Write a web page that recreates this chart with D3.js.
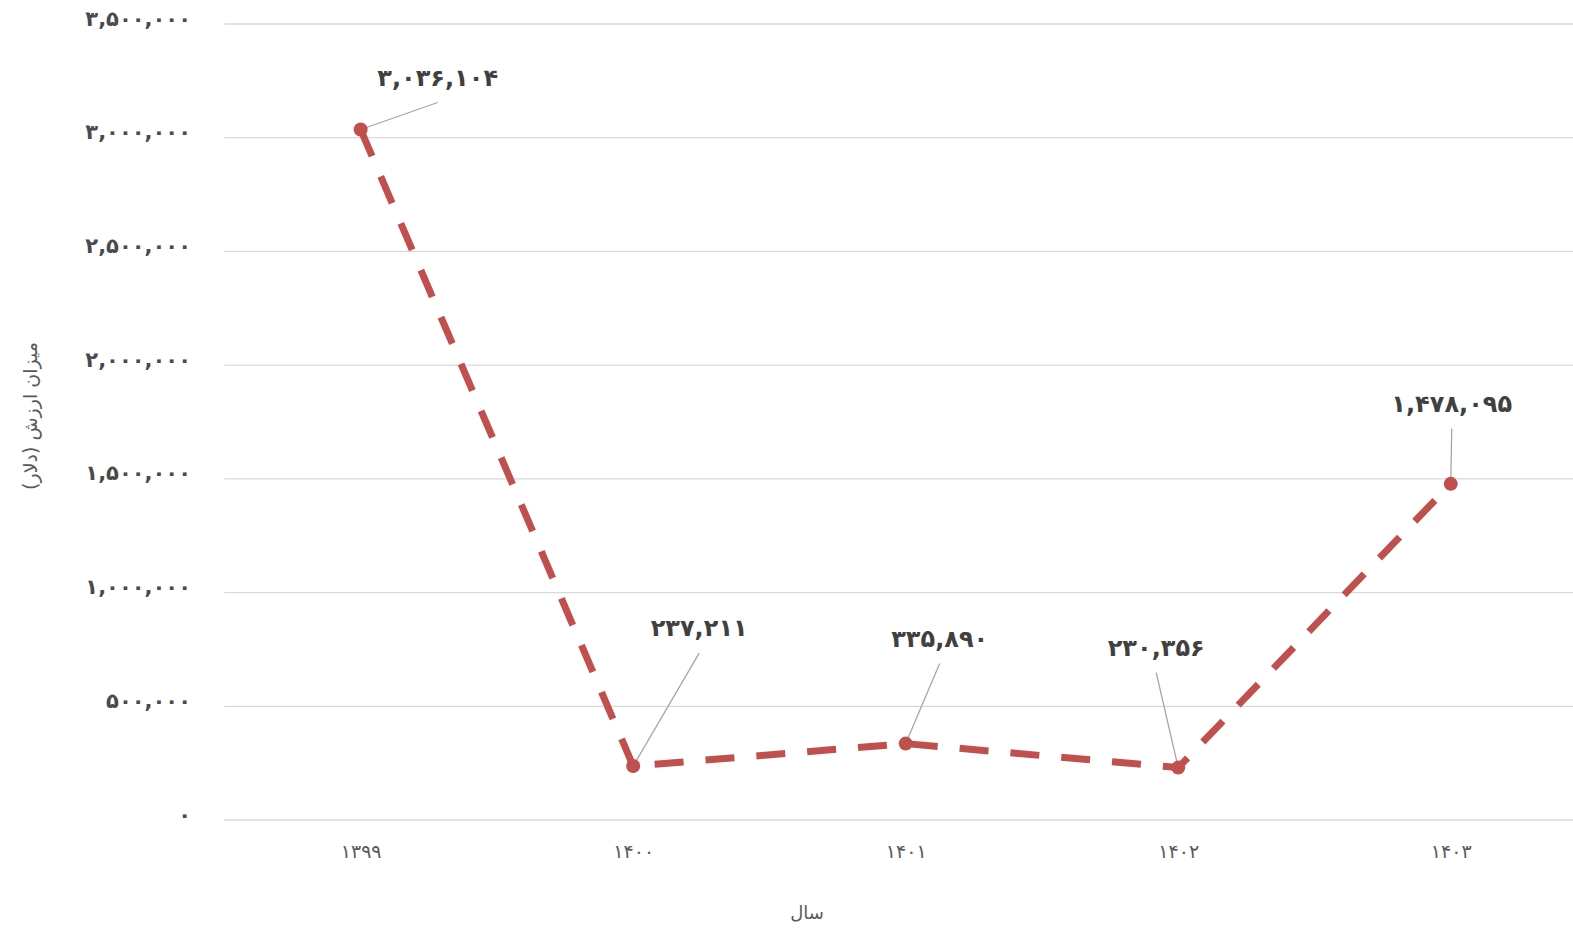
<!DOCTYPE html>
<html>
<head>
<meta charset="utf-8">
<script src="https://cdn.jsdelivr.net/npm/d3@7"></script>
<style>
  html, body { margin: 0; padding: 0; background: #fff; overflow: hidden; }
  text { font-family: "DejaVu Sans", sans-serif; }
</style>
</head>
<body>
<svg id="chart" width="1573" height="931"></svg>
<script>
// Export value by year (USD)
const years = ["۱۳۹۹", "۱۴۰۰", "۱۴۰۱", "۱۴۰۲", "۱۴۰۳"];
const values = [3036104, 237211, 335890, 230356, 1478095];
const yTicks = [0, 500000, 1000000, 1500000, 2000000, 2500000, 3000000, 3500000];
// callout label placement relative to each point: [dx, dy] of the label baseline
const labelOffsets = [[77, -44], [66, -130], [34, -97], [-22, -112], [1, -72]];

const yTitle = "میزان ارزش (دلار)";
const xTitle = "سال";

const persianDigits = "۰۱۲۳۴۵۶۷۸۹";
const toPersian = s => String(s).replace(/[0-9]/g, d => persianDigits[+d]);
const fmt = v => toPersian(d3.format(",")(v));

const svg = d3.select("#chart");
const plotLeft = 224.4, plotRight = 1587, plotTop = 24, plotBottom = 820;

const x = d3.scalePoint().domain(years).range([plotLeft, plotRight]).padding(0.5);
const y = d3.scaleLinear().domain([0, 3500000]).range([plotBottom, plotTop]);

// horizontal gridlines
svg.append("g")
  .selectAll("line")
  .data(yTicks)
  .join("line")
  .attr("x1", plotLeft).attr("x2", plotRight)
  .attr("y1", d => y(d)).attr("y2", d => y(d))
  .attr("stroke", "#d9d9d9").attr("stroke-width", 1.3);

// y axis labels
const yAxis = d3.axisLeft(y).tickValues(yTicks).tickFormat(fmt).tickSize(0).tickPadding(0);
const gy = svg.append("g").attr("transform", "translate(191,0)").call(yAxis);
gy.select(".domain").remove();
gy.selectAll("text")
  .attr("fill", "#4a4a4a")
  .style("font-size", "21px")
  .style("font-weight", "bold")
  .style("letter-spacing", "5.5px")
  .attr("dy", "0.05em");

// x axis labels
const xAxis = d3.axisBottom(x).tickSize(0).tickPadding(0);
const gx = svg.append("g").attr("transform", "translate(0,848)").call(xAxis);
gx.select(".domain").remove();
gx.selectAll("text")
  .attr("fill", "#595959")
  .style("font-size", "19px")
  .style("letter-spacing", "2px")
  .attr("dy", "0.55em");

// axis titles
svg.append("text")
  .attr("transform", "translate(37,416) rotate(-90)")
  .attr("text-anchor", "middle")
  .attr("fill", "#595959")
  .style("font-size", "19px")
  .text(yTitle);

svg.append("text")
  .attr("x", 807).attr("y", 919)
  .attr("text-anchor", "middle")
  .attr("fill", "#595959")
  .style("font-size", "18px")
  .text(xTitle);

const data = years.map((yr, i) => ({ yr, v: values[i], off: labelOffsets[i] }));

// dashed series line
const line = d3.line().x(d => x(d.yr)).y(d => y(d.v));
svg.append("path")
  .datum(data)
  .attr("d", line)
  .attr("fill", "none")
  .attr("stroke", "#c0504d")
  .attr("stroke-width", 7)
  .attr("stroke-dasharray", "29,22")
  .attr("stroke-linejoin", "round");

// leader lines from each point up to its label
svg.append("g")
  .selectAll("line")
  .data(data)
  .join("line")
  .attr("x1", d => x(d.yr)).attr("y1", d => y(d.v))
  .attr("x2", d => x(d.yr) + d.off[0])
  .attr("y2", d => y(d.v) + d.off[1] + 17)
  .attr("stroke", "#a6a6a6").attr("stroke-width", 1.3);

// markers
svg.append("g")
  .selectAll("circle")
  .data(data)
  .join("circle")
  .attr("cx", d => x(d.yr)).attr("cy", d => y(d.v))
  .attr("r", 7)
  .attr("fill", "#c0504d");

// value labels
svg.append("g")
  .selectAll("text")
  .data(data)
  .join("text")
  .attr("x", d => x(d.yr) + d.off[0])
  .attr("y", d => y(d.v) + d.off[1])
  .attr("text-anchor", "middle")
  .attr("fill", "#404040")
  .style("font-size", "24px")
  .style("font-weight", "bold")
  .style("letter-spacing", "3px")
  .text(d => fmt(d.v));
</script>
</body>
</html>
